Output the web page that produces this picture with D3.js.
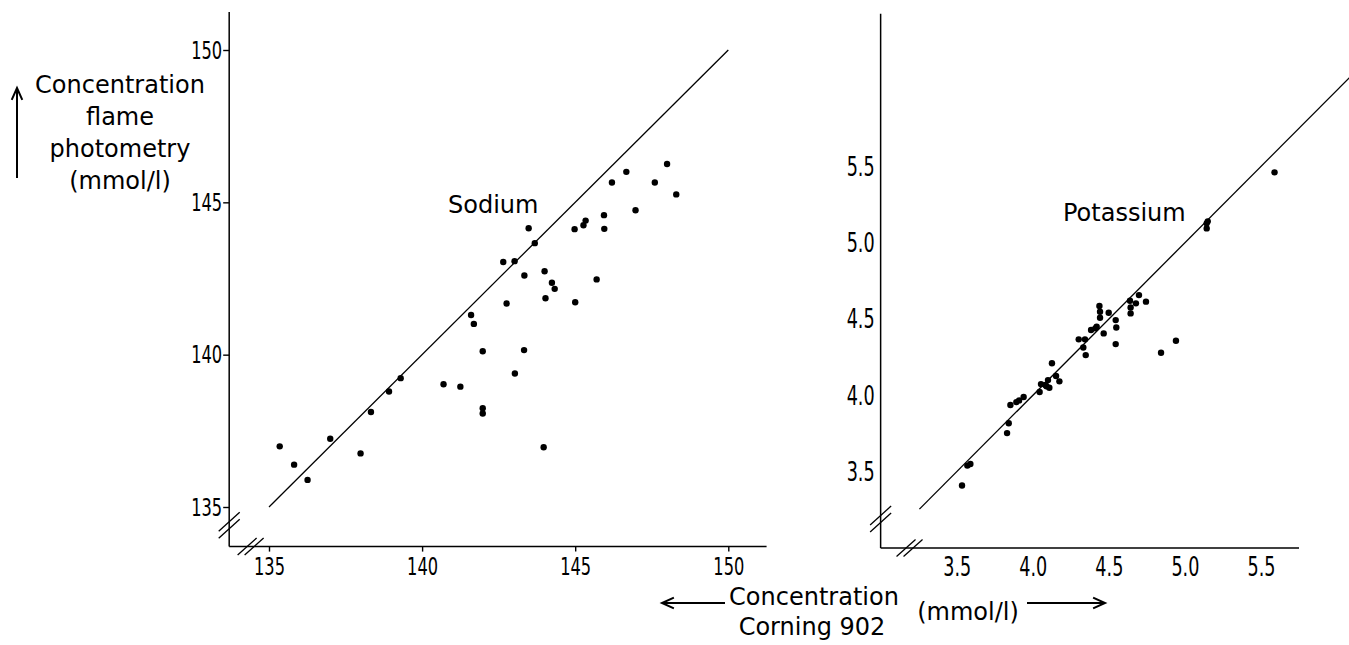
<!DOCTYPE html>
<html>
<head>
<meta charset="utf-8">
<script src="https://cdn.jsdelivr.net/npm/d3@7"></script>
<style>
  body { margin: 0; background: #fff; }
  svg { display: block; }
  text { font-family: "DejaVu Sans", "Liberation Sans", sans-serif; fill: #000; }
</style>
</head>
<body>
<div id="chart"></div>
<script>
// sodium: Corning 902 (x) vs flame photometry (y), mmol/l
const sodiumX = [148.0, 146.67, 146.2, 147.6, 148.3, 146.97, 145.94, 145.95, 145.34, 145.27,
  144.98, 143.48, 143.68, 142.65, 143.02, 143.34, 144.0, 144.24, 144.33, 145.7,
  144.03, 145.0, 142.76, 141.6, 141.69, 141.98, 143.33, 143.03, 140.7, 141.25,
  141.98, 141.98, 139.3, 138.92, 138.33, 137.0, 137.99, 135.35, 135.82, 136.26, 143.97]
const sodiumY = [146.26, 146.0, 145.65, 145.65, 145.26, 144.74, 144.58, 144.13, 144.4, 144.25,
  144.12, 144.15, 143.66, 143.04, 143.07, 142.6, 142.74, 142.36, 142.16, 142.47,
  141.85, 141.72, 141.68, 141.3, 141.01, 140.11, 140.15, 139.38, 139.03, 138.95,
  138.24, 138.07, 139.23, 138.79, 138.12, 137.24, 136.76, 136.99, 136.39, 135.89, 136.96]

// potassium
const potassiumX = [3.535, 3.57, 3.59, 3.831, 3.842, 3.853, 3.892, 3.91, 3.94, 4.045,
  4.054, 4.083, 4.1, 4.109, 4.09, 4.126, 4.153, 4.175, 4.302, 4.343,
  4.332, 4.348, 4.383, 4.411, 4.42, 4.438, 4.442, 4.442, 4.466, 4.499,
  4.545, 4.549, 4.545, 4.639, 4.643, 4.643, 4.678, 4.698, 4.744, 4.843,
  4.941, 5.143, 5.143, 5.15, 5.589]
const potassiumY = [3.41, 3.54, 3.55, 3.753, 3.817, 3.937, 3.956, 3.967, 3.989, 4.022,
  4.074, 4.068, 4.1, 4.05, 4.06, 4.21, 4.127, 4.092, 4.367, 4.367,
  4.314, 4.264, 4.428, 4.439, 4.45, 4.585, 4.548, 4.509, 4.406, 4.541,
  4.493, 4.445, 4.336, 4.62, 4.576, 4.537, 4.603, 4.657, 4.614, 4.279,
  4.358, 5.094, 5.127, 5.14, 5.461]

const sodiumTicks = [135, 140, 145, 150]
const potassiumXTicks = [3.5, 4.0, 4.5, 5.0, 5.5]
const potassiumYTicks = [3.5, 4.0, 4.5, 5.0, 5.5]

// line of identity and axis frame, in data units
const sodiumLine = [135, 150]
const sodiumFrame = [133.7, 151.25]
const sodiumBreak = 134.4
const potassiumLine = [3.255, 6.1]
const potassiumFrameX = [3.0, 5.75]
const potassiumFrameY = [3.0, 6.5]
const potassiumBreak = 3.19

const width = 1349
const height = 645

const svg = d3.select('#chart').append('svg')
  .attr('width', width)
  .attr('height', height)

svg.append('rect').attr('width', width).attr('height', height).attr('fill', '#fff')

function panel(opt) {
  const x = opt.x, y = opt.y
  const g = svg.append('g')

  // axis frame
  g.append('line')
    .attr('x1', x(opt.frameX[0])).attr('x2', x(opt.frameX[0]))
    .attr('y1', y(opt.frameY[1])).attr('y2', y(opt.frameY[0]))
    .attr('stroke', '#000').attr('stroke-width', 1.5)
  g.append('line')
    .attr('x1', x(opt.frameX[0])).attr('x2', x(opt.frameX[1]))
    .attr('y1', y(opt.frameY[0])).attr('y2', y(opt.frameY[0]))
    .attr('stroke', '#000').attr('stroke-width', 1.5)

  // break marks
  const bx = x(opt.brk), by = y(opt.brk)
  const x0 = x(opt.frameX[0]), y0 = y(opt.frameY[0])
  ;[-3.5, 3.5].forEach(o => {
    g.append('line')
      .attr('x1', x0 - 10.5).attr('y1', by + o + 9.5)
      .attr('x2', x0 + 10.5).attr('y2', by + o - 9.5)
      .attr('stroke', '#000').attr('stroke-width', 1.3)
    g.append('line')
      .attr('x1', bx + o - 9.5).attr('y1', y0 + 8.5)
      .attr('x2', bx + o + 9.5).attr('y2', y0 - 8.5)
      .attr('stroke', '#000').attr('stroke-width', 1.3)
  })

  // y axis
  const ya = g.append('g')
    .attr('transform', `translate(${x0},0)`)
    .call(d3.axisLeft(y).tickValues(opt.yTicks).tickFormat(opt.fmt)
      .tickSize(opt.tickLen).tickPadding(opt.yPad))
  // x axis
  const xa = g.append('g')
    .attr('transform', `translate(0,${y0})`)
    .call(d3.axisBottom(x).tickValues(opt.xTicks).tickFormat(opt.fmt)
      .tickSize(opt.tickLen ? 5 : 0).tickPadding(opt.xPad))

  ;[ya, xa].forEach(a => {
    a.select('.domain').remove()
    a.selectAll('line').attr('stroke', '#000').attr('stroke-width', 1.4)
    a.selectAll('text')
      .attr('fill', '#000')
      .style('font-family', '"DejaVu Sans", sans-serif')
      .style('font-size', opt.fontSize + 'px')
      .attr('textLength', opt.labelW)
      .attr('lengthAdjust', 'spacingAndGlyphs')
  })

  // identity line
  g.append('line')
    .attr('x1', x(opt.line[0])).attr('y1', y(opt.line[0]))
    .attr('x2', x(opt.line[1])).attr('y2', y(opt.line[1]))
    .attr('stroke', '#000').attr('stroke-width', 1.3)

  // points
  g.selectAll('circle.pt')
    .data(d3.zip(opt.xs, opt.ys))
    .enter().append('circle')
    .attr('class', 'pt')
    .attr('cx', d => x(d[0]))
    .attr('cy', d => y(d[1]))
    .attr('r', 3.2)
    .attr('fill', '#000')

  g.append('text')
    .attr('x', opt.title[1]).attr('y', opt.title[2])
    .style('font-size', '24px')
    .text(opt.title[0])
}

panel({
  x: d3.scaleLinear().domain([135, 150]).range([269, 728.3]),
  y: d3.scaleLinear().domain([135, 150]).range([507, 50]),
  xs: sodiumX, ys: sodiumY,
  xTicks: sodiumTicks, yTicks: sodiumTicks,
  fmt: d3.format('d'),
  frameX: sodiumFrame, frameY: sodiumFrame,
  brk: sodiumBreak, line: sodiumLine,
  tickLen: 6, yPad: 1, xPad: 6,
  fontSize: 25, labelW: 31,
  title: ['Sodium', 448, 213]
})

panel({
  x: d3.scaleLinear().domain([3.5, 5.5]).range([956.7, 1261]),
  y: d3.scaleLinear().domain([3.5, 5.5]).range([471.7, 166.4]),
  xs: potassiumX, ys: potassiumY,
  xTicks: potassiumXTicks, yTicks: potassiumYTicks,
  fmt: d3.format('.1f'),
  frameX: potassiumFrameX, frameY: potassiumFrameY,
  brk: potassiumBreak, line: potassiumLine,
  tickLen: 0, yPad: 6, xPad: 9,
  fontSize: 27, labelW: 28,
  title: ['Potassium', 1063, 221]
})

// y title, top left
const yTitle = ['Concentration', 'flame', 'photometry', '(mmol/l)']
svg.append('g').selectAll('text')
  .data(yTitle).enter().append('text')
  .attr('x', 120)
  .attr('y', (d, i) => 93 + i * 32)
  .attr('text-anchor', 'middle')
  .style('font-size', '24px')
  .text(d => d)

function arrow(x1, y1, x2, y2) {
  // open head at (x2,y2)
  const a = Math.atan2(y2 - y1, x2 - x1)
  const L = 13, w = 0.42
  svg.append('line').attr('x1', x1).attr('y1', y1).attr('x2', x2).attr('y2', y2)
    .attr('stroke', '#000').attr('stroke-width', 2)
  svg.append('path')
    .attr('d', `M${x2 - L * Math.cos(a - w)},${y2 - L * Math.sin(a - w)}L${x2},${y2}L${x2 - L * Math.cos(a + w)},${y2 - L * Math.sin(a + w)}`)
    .attr('fill', 'none').attr('stroke', '#000').attr('stroke-width', 2)
}
arrow(17, 178, 17, 88)

// x title, bottom
svg.append('text').attr('x', 814).attr('y', 605).attr('text-anchor', 'middle')
  .style('font-size', '24px').text('Concentration')
svg.append('text').attr('x', 812).attr('y', 635).attr('text-anchor', 'middle')
  .style('font-size', '24px').text('Corning 902')
svg.append('text').attr('x', 968).attr('y', 620).attr('text-anchor', 'middle')
  .style('font-size', '24px').text('(mmol/l)')
arrow(725, 603, 662, 603)
arrow(1027, 603, 1105, 603)
</script>
</body>
</html>
